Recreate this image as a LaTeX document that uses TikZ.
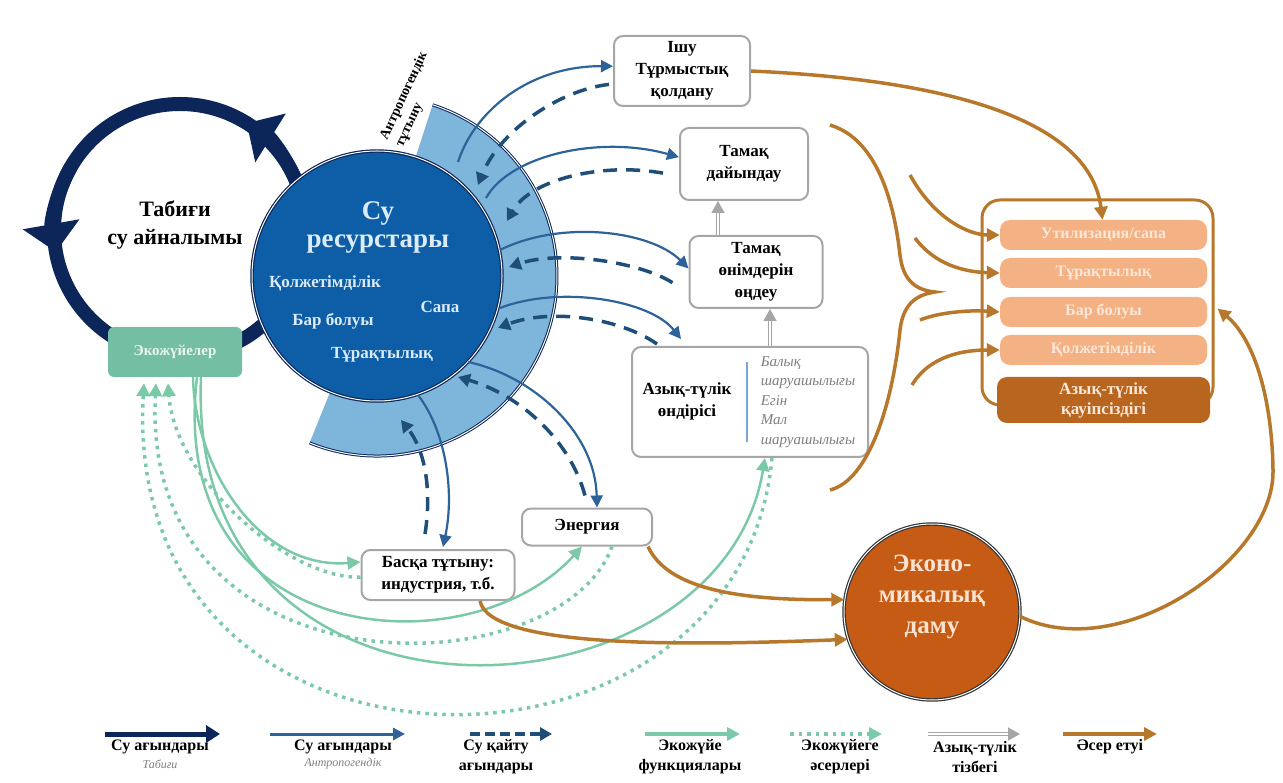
\documentclass[tikz,border=0pt]{standalone}
\usepackage{fontspec}
\setmainfont{Liberation Serif}
\usetikzlibrary{arrows.meta,calc}

\definecolor{navy}{HTML}{0C2659}
\definecolor{wrfill}{HTML}{0D5EA6}
\definecolor{wrtext}{HTML}{DCEBF8}
\definecolor{bandblue}{HTML}{7DB5DB}
\definecolor{flowblue}{HTML}{2D6399}
\definecolor{retblue}{HTML}{1F4E79}
\definecolor{ecobox}{HTML}{74BFA3}
\definecolor{ecotext}{HTML}{E9F6F0}
\definecolor{ecogreen}{HTML}{7CC9A8}
\definecolor{boxgray}{HTML}{A6A6A6}
\definecolor{listgray}{HTML}{7F7F7F}
\definecolor{listblue}{HTML}{7BA7D4}
\definecolor{impactorange}{HTML}{B8782C}
\definecolor{econ}{HTML}{C55B14}
\definecolor{econtext}{HTML}{FBE3D2}
\definecolor{rowlight}{HTML}{F4B183}
\definecolor{rowdark}{HTML}{B8661F}
\definecolor{rowtext}{HTML}{FCE8DA}

\newcommand\fsz[2]{\fontsize{#1}{#2}\selectfont}

\begin{document}
\begin{tikzpicture}
  [x=1pt, y=1pt,
    every node/.style={inner sep=0pt},
    chainbox/.style={draw=boxgray, line width=2pt, rounded corners=9pt, fill=white,
      align=center, font=\bfseries\fsz{17}{22}},
    rowbox/.style={fill=rowlight, rounded corners=10pt, minimum width=207pt, minimum height=30pt,
      text=rowtext, font=\bfseries\fsz{16}{19}},
    legtext/.style={align=center, font=\bfseries\fsz{16}{20}},
    legsub/.style={font=\itshape\fsz{12}{14}, text=listgray},
    natflow/.style={draw=navy, line width=5pt, -{Triangle[length=14pt,width=17pt]}},
    anflow/.style={draw=flowblue, line width=2.2pt, -{Triangle[length=12pt,width=12pt]}},
    retflow/.style={draw=retblue, line width=3.5pt, dash pattern=on 14pt off 9pt,
      -{Triangle[length=12pt,width=13pt]}},
    ecofun/.style={draw=ecogreen, line width=2.5pt, -{Triangle[length=13pt,width=13pt]}},
    ecoimp/.style={draw=ecogreen, line width=3.5pt, dash pattern=on 3.5pt off 5pt,
      -{Triangle[length=13pt,width=13pt]}},
    foodchain/.style={draw=boxgray, line width=1.3pt, double=white, double distance=1.3pt,
      -{Triangle[length=12pt,width=13pt]}},
    impact/.style={draw=impactorange, line width=3.5pt, -{Triangle[length=13pt,width=13pt]}},
  ]
  \useasboundingbox (0,0) rectangle (1283,-783);

  % natural water cycle
  \coordinate (nc) at (180,-230);
  \draw[navy, line width=14pt] (nc) circle[radius=126];
  \draw[navy, line width=14pt, -{Triangle[length=28pt,width=56pt]}]
    (nc) ++(20:126) arc[start angle=20, end angle=58, radius=126];
  \draw[navy, line width=14pt, -{Triangle[length=28pt,width=56pt]}]
    (nc) ++(150:126) arc[start angle=150, end angle=190, radius=126];
  \node[align=center, font=\bfseries\fsz{22}{28}] (nctext) at (175,-225) {Табиғи\\су айналымы};

  % anthropogenic use band
  \coordinate (wc) at (377,-276);
  \fill[bandblue] ($(wc)+(-112:125)$) arc[start angle=-112, end angle=72, radius=125]
    -- ($(wc)+(72:180)$) arc[start angle=72, end angle=-112, radius=180] -- cycle;
  \draw[navy, line width=1pt, double=white, double distance=1pt]
    ($(wc)+(-112:180)$) arc[start angle=-112, end angle=72, radius=180];
  \node[rotate=65, anchor=west, font=\bfseries\fsz{14}{15}] (anthro1) at (384,-139) {Антропогендік};
  \node[rotate=65, anchor=west, font=\bfseries\fsz{14}{15}] (anthro2) at (401,-147) {тұтыну};

  % water resources
  \node[circle, fill=wrfill, draw=navy, line width=1.2pt, double=white, double distance=1pt,
    minimum size=250pt] (wr) at (wc) {};
  \node[align=center, text=wrtext, font=\bfseries\fsz{27}{28}] (wrtitle) at (378,-227) {Су\\ресурстары};
  \node[text=wrtext, font=\bfseries\fsz{17}{18}] (wra) at (325,-283) {Қолжетімділік};
  \node[text=wrtext, font=\bfseries\fsz{17}{18}] (wrb) at (333,-321) {Бар болуы};
  \node[text=wrtext, font=\bfseries\fsz{17}{18}] (wrq) at (440,-307) {Сапа};
  \node[text=wrtext, font=\bfseries\fsz{17}{18}] (wrs) at (382,-355) {Тұрақтылық};

  % ecosystems
  \node[fill=ecobox, rounded corners=6pt, minimum width=134pt, minimum height=50pt,
    text=ecotext, font=\bfseries\fsz{15}{18}] (eco) at (175,-352) {Экожүйелер};

  % uses
  \node[chainbox, minimum width=136pt, minimum height=70pt] (drink) at (682,-71) {Ішу\\Тұрмыстық\\қолдану};
  \node[chainbox, minimum width=128pt, minimum height=72pt] (cook) at (744,-164) {Тамақ\\дайындау};
  \node[chainbox, minimum width=133pt, minimum height=72pt] (proc) at (756,-272) {Тамақ\\өнімдерін\\өңдеу};
  \node[chainbox, minimum width=236pt, minimum height=110pt] (prod) at (750,-402) {};
  \node[align=center, font=\bfseries\fsz{17}{22}] (prodtext) at (687,-401) {Азық-түлік\\өндірісі};
  \node[align=left, text=listgray, font=\itshape\fsz{15}{19.5}] (prodlist) at (808,-402)
    {Балық\\шаруашылығы\\Егін\\Мал\\шаруашылығы};
  \draw[listblue, line width=2pt] ([xshift=-3pt,yshift=-16pt]prod.north) -- ([xshift=-3pt,yshift=16pt]prod.south);
  \node[chainbox, minimum width=130pt, minimum height=37pt] (energy) at (587,-527) {Энергия};
  \node[chainbox, minimum width=153pt, minimum height=50pt] (other) at (438,-575) {Басқа тұтыну:\\индустрия, т.б.};

  % economic development
  \node[circle, fill=econ, draw=black!80, line width=1.2pt, double=white, double distance=1pt,
    minimum size=176pt] (econ) at (932,-612) {};
  \node[align=center, text=econtext, font=\bfseries\fsz{25}{31}] (econtext) at (932,-597) {Эконо-\\микалық\\даму};

  % food security
  \node[draw=impactorange, line width=3pt, rounded corners=18pt, minimum width=231pt,
    minimum height=205pt] (fs) at (1097.5,-302.5) {};
  \node[rowbox] (fs1) at (1103.5,-235) {Утилизация/сапа};
  \node[rowbox] (fs2) at (1103.5,-273) {Тұрақтылық};
  \node[rowbox] (fs3) at (1103.5,-312) {Бар болуы};
  \node[rowbox] (fs4) at (1103.5,-350) {Қолжетімділік};
  \node[rowbox, fill=rowdark, minimum width=213pt, minimum height=46pt, align=center,
    font=\bfseries\fsz{17}{20}] (fs5) at (1103.5,-400) {Азық-түлік\\қауіпсіздігі};

  % anthropogenic water flows
  \coordinate (s1) at (458,-162);
  \coordinate (s2) at (486,-198);
  \coordinate (s3) at (500,-250);
  \coordinate (s4) at (500,-308);
  \coordinate (s5) at (468,-362);
  \coordinate (s6) at (418,-395);
  \draw[anflow] (s1) .. controls (475,-110) and (530,-66) .. (drink.176);
  \draw[anflow] (s2) .. controls (510,-155) and (600,-135) .. (cook.174);
  \draw[anflow] (s3) .. controls (560,-220) and (650,-230) .. (proc.177);
  \draw[anflow] (s4) .. controls (560,-285) and (650,-300) .. ([xshift=50pt,yshift=7pt]prod.north west);
  \draw[anflow] (s5) .. controls (530,-375) and (595,-430) .. ([xshift=10pt]energy.north);
  \draw[anflow] (s6) .. controls (445,-430) and (455,-490) .. ([xshift=5pt,yshift=2pt]other.north);

  % return flows
  \coordinate (e1) at (478,-185);
  \coordinate (e2) at (507,-221);
  \coordinate (e3) at (509,-267);
  \coordinate (e4) at (498,-328);
  \coordinate (e5) at (458,-377);
  \coordinate (e6) at (401,-420);
  \draw[retflow] ([xshift=-4pt]drink.191) .. controls (560,-90) and (500,-130) .. (e1);
  \draw[retflow] ([xshift=-16pt]cook.188) .. controls (600,-162) and (530,-180) .. (e2);
  \draw[retflow] ([xshift=-16pt]proc.189) .. controls (640,-262) and (560,-250) .. (e3);
  \draw[retflow] ([xshift=26pt,yshift=2pt]prod.north west) .. controls (620,-318) and (550,-308) .. (e4);
  \draw[retflow] ([xshift=-2pt,yshift=12pt]energy.north) .. controls (570,-440) and (520,-395) .. (e5);
  \draw[retflow] ([xshift=-13pt,yshift=15pt]other.north) .. controls (432,-490) and (425,-450) .. (e6);

  % ecosystem functions
  \draw[ecofun] ([xshift=18pt]eco.south) .. controls (195,-470) and (260,-570) .. ([yshift=13pt]other.west);
  \draw[ecofun] ([xshift=22pt]eco.south) .. controls (165,-650) and (470,-670) .. ([xshift=-5pt]energy.south);
  \draw[ecofun] ([xshift=26pt]eco.south) .. controls (185,-760) and (720,-730) .. ([xshift=15pt]prod.south);

  % ecosystem impacts
  \draw[ecoimp] ([yshift=-2pt]other.west) .. controls (290,-580) and (175,-480) .. ([xshift=-7pt,yshift=-6pt]eco.south);
  \draw[ecoimp] ([xshift=25pt]energy.south) .. controls (560,-690) and (140,-700) .. ([xshift=-19pt,yshift=-6pt]eco.south);
  \draw[ecoimp] ([xshift=22pt]prod.south) .. controls (740,-810) and (120,-810) .. ([xshift=-31pt,yshift=-6pt]eco.south);

  % food chain
  \draw[foodchain] ([xshift=-38pt]proc.north) -- ([xshift=-26pt]cook.south);
  \draw[foodchain] ([xshift=20pt]prod.north) -- ([xshift=14pt]proc.south);

  % impacts
  \coordinate (br1) at (830,-125);
  \coordinate (brtip) at (935,-292);
  \coordinate (br2) at (830,-490);
  \draw[draw=impactorange, line width=3.5pt] (br1) .. controls (880,-140) and (895,-210) .. (900,-255)
    .. controls (903,-280) and (915,-290) .. (brtip)
    .. controls (915,-295) and (903,-305) .. (900,-330)
    .. controls (893,-400) and (870,-480) .. (br2);
  \coordinate (in1) at (910,-175);
  \coordinate (in2) at (915,-238);
  \coordinate (in3) at (920,-320);
  \coordinate (in4) at (912,-385);
  \draw[impact] (in1) .. controls (935,-220) and (970,-235) .. (fs1.west);
  \draw[impact] (in2) .. controls (935,-265) and (965,-272) .. (fs2.west);
  \draw[impact] (in3) .. controls (940,-312) and (970,-310) .. (fs3.west);
  \draw[impact] (in4) .. controls (930,-355) and (965,-350) .. (fs4.west);
  \draw[impact] (drink.east) .. controls (950,-80) and (1090,-120) .. ([xshift=-1pt]fs1.north);
  \draw[impact] ([xshift=-5pt]energy.south east) .. controls (670,-595) and (760,-600) .. (econ.172);
  \draw[impact] ([xshift=42pt]other.south) .. controls (490,-650) and (700,-645) .. (econ.198);
  \draw[impact] (econ.-3) .. controls (1120,-665) and (1275,-560) .. (1273,-470)
    .. controls (1272,-400) and (1255,-340) .. ([xshift=3pt,yshift=-6pt]fs.east);

  % legend
  \coordinate (l1a) at (105,-734); \coordinate (l1b) at (220,-734);
  \coordinate (l2a) at (270,-734); \coordinate (l2b) at (405,-734);
  \coordinate (l3a) at (470,-734); \coordinate (l3b) at (552,-734);
  \coordinate (l4a) at (645,-734); \coordinate (l4b) at (740,-734);
  \coordinate (l5a) at (790,-734); \coordinate (l5b) at (882,-734);
  \coordinate (l6a) at (928,-734); \coordinate (l6b) at (1020,-734);
  \coordinate (l7a) at (1063,-734); \coordinate (l7b) at (1157,-734);
  \draw[natflow] (l1a) -- (l1b);
  \draw[anflow, line width=3pt] (l2a) -- (l2b);
  \draw[retflow, dash pattern=on 10pt off 5pt] (l3a) -- (l3b);
  \draw[ecofun, line width=4pt] (l4a) -- (l4b);
  \draw[ecoimp] (l5a) -- (l5b);
  \draw[foodchain] (l6a) -- (l6b);
  \draw[impact] (l7a) -- (l7b);
  \node[legtext] (leg1) at (160,-747) {Су ағындары};
  \node[legsub] (leg1s) at (160,-764) {Табиғи};
  \node[legtext] (leg2) at (343,-747) {Су ағындары};
  \node[legsub] (leg2s) at (343,-764) {Антропогендік};
  \node[legtext] (leg3) at (496,-757) {Су қайту\\ағындары};
  \node[legtext] (leg4) at (690,-757) {Экожүйе\\функциялары};
  \node[legtext] (leg5) at (840,-757) {Экожүйеге\\әсерлері};
  \node[legtext] (leg6) at (975,-757) {Азық-түлік\\тізбегі};
  \node[legtext] (leg7) at (1110,-747) {Әсер етуі};
\end{tikzpicture}
\end{document}
